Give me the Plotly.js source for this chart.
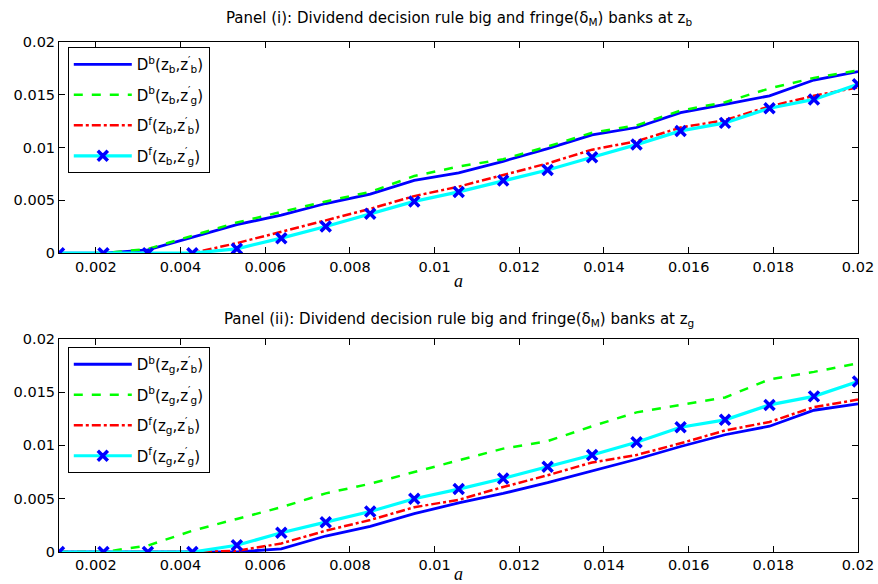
<!DOCTYPE html>
<html><head><meta charset="utf-8">
<script src="https://cdn.plot.ly/plotly-3.0.1.min.js"></script>
<style>html,body{margin:0;padding:0;background:#fff}#chart{width:878px;height:584px}</style>
</head><body><div id="chart"></div>
<script>
// grid of a values
const aGrid = [0.00113,0.00218,0.00323,0.00428,0.00533,0.00638,0.00743,0.00848,0.00952,0.01057,0.01162,0.01267,0.01372,0.01477,0.01581,0.01686,0.01791,0.01896,0.02];

// Panel (i): z_b
const Db_zb_zb = [0,0,0.0003,0.0015,0.0027,0.0036,0.0047,0.0056,0.0069,0.0076,0.0087,0.0099,0.0112,0.0119,0.0133,0.0141,0.0149,0.0164,0.0172];
const Db_zb_zg = [0,0,0.0004,0.00165,0.0029,0.0039,0.0049,0.0058,0.0073,0.0082,0.0089,0.0101,0.0114,0.0121,0.0135,0.0143,0.0156,0.0166,0.0173];
const Df_zb_zb = [0,0,0,0,0.00095,0.002,0.0031,0.0042,0.0054,0.0063,0.0074,0.0085,0.0098,0.0106,0.0119,0.0126,0.0139,0.0149,0.0157];
const Df_zb_zg = [0,0,0,0,0.00041,0.00142,0.00253,0.00373,0.0049,0.0058,0.00687,0.00788,0.00908,0.01028,0.01158,0.01234,0.01373,0.01456,0.0160];

// Panel (ii): z_g
const Db_zg_zb = [0,0,0,0,0,0.0003,0.0015,0.0024,0.0036,0.0046,0.0055,0.0065,0.0076,0.0087,0.0099,0.0110,0.0118,0.0133,0.0139];
const Db_zg_zg = [0,0,0.0006,0.0020,0.0031,0.0042,0.0055,0.0064,0.0075,0.0086,0.0097,0.0104,0.0118,0.0131,0.0138,0.0145,0.0162,0.0169,0.0177];
const Df_zg_zb = [0,0,0,0,0.0001,0.0008,0.0020,0.0030,0.0042,0.0049,0.0061,0.0072,0.0084,0.0091,0.0102,0.0114,0.0122,0.0136,0.0143];
const Df_zg_zg = [0,0,0,0,0.00063,0.0018,0.0028,0.0038,0.0050,0.0059,0.0069,0.0080,0.0091,0.0103,0.0117,0.0124,0.0138,0.0146,0.0160];

const namesTop = ['D<sup>b</sup>(z<sub>b</sub>,z<sup>′</sup><sub>b</sub>)','D<sup>b</sup>(z<sub>b</sub>,z<sup>′</sup><sub>g</sub>)','D<sup>f</sup>(z<sub>b</sub>,z<sup>′</sup><sub>b</sub>)','D<sup>f</sup>(z<sub>b</sub>,z<sup>′</sup><sub>g</sub>)'];
const namesBot = ['D<sup>b</sup>(z<sub>g</sub>,z<sup>′</sup><sub>b</sub>)','D<sup>b</sup>(z<sub>g</sub>,z<sup>′</sup><sub>g</sub>)','D<sup>f</sup>(z<sub>g</sub>,z<sup>′</sup><sub>b</sub>)','D<sup>f</sup>(z<sub>g</sub>,z<sup>′</sup><sub>g</sub>)'];
const titleTop = 'Panel (i): Dividend decision rule big and fringe(δ<sub>M</sub>) banks at z<sub>b</sub>';
const titleBot = 'Panel (ii): Dividend decision rule big and fringe(δ<sub>M</sub>) banks at z<sub>g</sub>';

const styles = [
  {mode:'lines', line:{color:'#0000ff', width:2.8, dash:'solid'}},
  {mode:'lines', line:{color:'#00ff00', width:2.5, dash:'dash'}},
  {mode:'lines', line:{color:'#ff0000', width:2.5, dash:'dashdot'}},
  {mode:'lines+markers', line:{color:'#00ffff', width:3.2, dash:'solid'},
   marker:{symbol:'x-thin', size:10, color:'#0000ff', line:{color:'#0000ff', width:3.5}}}
];

function mk(y, name, i, xa, ya, leg, grp){
  return Object.assign({x:aGrid, y:y, name:name, xaxis:xa, yaxis:ya, legend:leg, legendgroup:grp, type:'scatter'}, JSON.parse(JSON.stringify(styles[i])));
}
const traces = [
  mk(Db_zb_zb, namesTop[0], 0, 'x', 'y', 'legend', 'a1'),
  mk(Db_zb_zg, namesTop[1], 1, 'x', 'y', 'legend', 'a2'),
  mk(Df_zb_zb, namesTop[2], 2, 'x', 'y', 'legend', 'a3'),
  mk(Df_zb_zg, namesTop[3], 3, 'x', 'y', 'legend', 'a4'),
  mk(Db_zg_zb, namesBot[0], 0, 'x2', 'y2', 'legend2', 'b1'),
  mk(Db_zg_zg, namesBot[1], 1, 'x2', 'y2', 'legend2', 'b2'),
  mk(Df_zg_zb, namesBot[2], 2, 'x2', 'y2', 'legend2', 'b3'),
  mk(Df_zg_zg, namesBot[3], 3, 'x2', 'y2', 'legend2', 'b4')
];

const sans = 'DejaVu Sans, Liberation Sans, Arial, sans-serif';
const tickFont = {family:sans, size:14.5, color:'#000'};
function xax(anchor){
  return {anchor:anchor, range:[0.00113,0.02], tickvals:[0.002,0.004,0.006,0.008,0.01,0.012,0.014,0.016,0.018,0.02],
    ticktext:['0.002','0.004','0.006','0.008','0.01','0.012','0.014','0.016','0.018','0.02'],
    ticks:'inside', ticklen:6, tickcolor:'#000', showline:true, linecolor:'#000', linewidth:1, mirror:'ticks',
    showgrid:false, zeroline:false, tickfont:tickFont,
    title:{text:'<i>a</i>', font:{family:'Liberation Serif, DejaVu Serif, serif', size:18, color:'#000'}, standoff:0}};
}
function yax(anchor, dom){
  return {anchor:anchor, domain:dom, range:[0,0.02], tickvals:[0,0.005,0.01,0.015,0.02],
    ticktext:['0','0.005','0.01','0.015','0.02'],
    ticks:'inside', ticklen:6, tickcolor:'#000', showline:true, linecolor:'#000', linewidth:1, mirror:'ticks',
    showgrid:false, zeroline:false, tickfont:tickFont};
}
const legFont = {family:sans, size:15, color:'#000'};
const legBase = {xanchor:'left', yanchor:'top', bgcolor:'#fff', bordercolor:'#000', borderwidth:1, font:legFont, tracegroupgap:8, itemwidth:58, traceorder:'grouped'};
const layout = {
  width:878, height:584, margin:{l:59, r:20, t:42, b:32},
  paper_bgcolor:'#fff', plot_bgcolor:'#fff', showlegend:true,
  xaxis: Object.assign(xax('y'), {domain:[0,1]}),
  yaxis: yax('x', [0.586,1]),
  xaxis2: Object.assign(xax('y2'), {domain:[0,1]}),
  yaxis2: yax('x2', [0,0.418]),
  legend: Object.assign({x:0.011, y:0.99}, legBase),
  legend2: Object.assign({x:0.011, y:0.402}, legBase),
  annotations:[
    {text:titleTop, xref:'paper', yref:'paper', x:0.5, y:1.047, xanchor:'center', yanchor:'middle', showarrow:false, font:{family:sans, size:15, color:'#000'}},
    {text:titleBot, xref:'paper', yref:'paper', x:0.5, y:0.455, xanchor:'center', yanchor:'middle', showarrow:false, font:{family:sans, size:15, color:'#000'}}
  ]
};
Plotly.newPlot('chart', traces, layout, {displayModeBar:false, staticPlot:true});
</script></body></html>
